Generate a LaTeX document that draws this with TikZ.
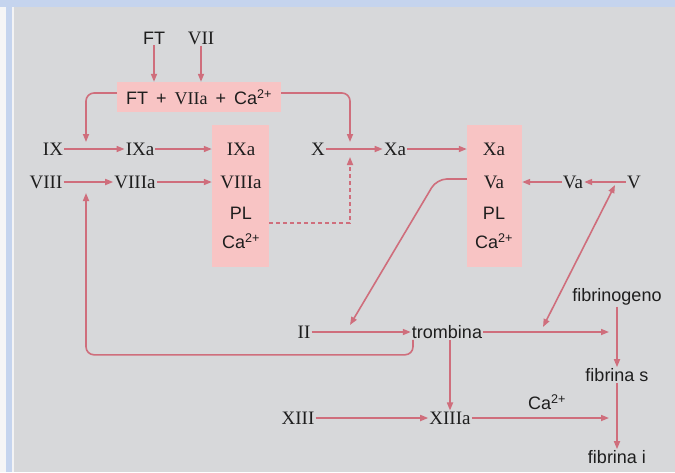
\documentclass[tikz,border=0pt]{standalone}
\usepackage{fontspec}
\setmainfont{Liberation Serif}
\newfontfamily\hsans{Liberation Sans}
\usetikzlibrary{arrows.meta}
\definecolor{bg}{HTML}{D7D8DA}
\definecolor{bandblue}{HTML}{C5D4EE}
\definecolor{arr}{HTML}{CF6E7C}
\definecolor{boxfill}{HTML}{F8C4C4}
\definecolor{txt}{HTML}{1E1E1E}
\begin{document}
\begin{tikzpicture}[x=1pt,y=-1pt,
  >={Triangle[length=8pt,width=6pt]},
  rom/.style={font=\fontsize{19}{21}\selectfont,text=txt,inner sep=1pt},
  san/.style={font=\hsans\fontsize{18}{21}\selectfont,text=txt,inner sep=1pt},
  pbox/.style={fill=boxfill,draw=none,inner sep=0pt},
  arrow/.style={draw=arr,line width=1.6pt,->},
  dblarrow/.style={draw=arr,line width=1.6pt,<->}]
% background
\fill[bg] (0,0) rectangle (675,472);
\fill[white!75!bg] (0,0) rectangle (6,472);
\fill[bandblue] (0,0) rectangle (675,7);
\fill[bandblue] (6,0) rectangle (12,472);
\fill[white!70!bg] (12,7) rectangle (14,472);
\useasboundingbox (0,0) rectangle (675,472);

% boxes
\node[pbox,minimum width=164pt,minimum height=30pt,san] (ftbox) at (199,97)
  {FT\hspace{3pt} + \hspace{3pt}\textrm{VIIa}\hspace{3pt} + \hspace{3pt}Ca\textsuperscript{2+}};
\node[pbox,minimum width=57pt,minimum height=142pt] (box1) at (240.5,196) {};
\node[pbox,minimum width=55pt,minimum height=142pt] (box2) at (494.5,196) {};

% box contents
\node[rom] (b1ixa) at (241,149) {IXa};
\node[rom] (b1viiia) at (241,182) {VIIIa};
\node[san] (b1pl) at (241,213) {PL};
\node[san] (b1ca) at (241,241) {Ca\textsuperscript{2+}};
\node[rom] (b2xa) at (494,149) {Xa};
\node[rom] (b2va) at (494,182) {Va};
\node[san] (b2pl) at (494,213) {PL};
\node[san] (b2ca) at (494,241) {Ca\textsuperscript{2+}};

% free labels
\node[san] (ft) at (154,38) {FT};
\node[rom] (vii) at (201,38) {VII};
\node[rom] (ix) at (53,149) {IX};
\node[rom] (ixa) at (140,149) {IXa};
\node[rom] (viii) at (46,182) {VIII};
\node[rom] (viiia) at (135,182) {VIIIa};
\node[rom] (x) at (318,149) {X};
\node[rom] (xa) at (395,149) {Xa};
\node[rom] (va) at (573,182) {Va};
\node[rom] (v) at (634,182) {V};
\node[rom] (ii) at (304,332) {II};
\node[san] (trombina) at (447,332) {trombina};
\node[san] (fibrinogeno) at (617,297) {fibrinogeno};
\node[san] (fibrinas) at (617,375) {fibrina s};
\node[san] (fibrinai) at (617,457) {fibrina i};
\node[rom] (xiii) at (298,418) {XIII};
\node[rom] (xiiia) at (450,418) {XIIIa};
\node[san] (ca) at (547,402) {Ca\textsuperscript{2+}};

% free ends
\coordinate (lbr) at (86,142);
\coordinate (rbr) at (350,142);
\coordinate (dsh) at (350,157);
\coordinate (iiarr) at (350,325);
\coordinate (thrv) at (543,327);
\coordinate (vtip) at (615,185);
\coordinate (tcol) at (609,332);
\coordinate (xcol) at (609,418);
\coordinate (fbtip) at (86,193);

% connectors
\draw[arrow] (ft) -- (ft |- ftbox.north);
\draw[arrow] (vii) -- (vii |- ftbox.north);
\draw[arrow,rounded corners=8pt] ([yshift=4pt]ftbox.west) -| (lbr);
\draw[arrow,rounded corners=8pt] ([yshift=4pt]ftbox.east) -| (rbr);
\draw[arrow] (ix) -- (ixa);
\draw[arrow] (ixa) -- (box1.west |- ixa);
\draw[arrow] (viii) -- (viiia);
\draw[arrow] (viiia) -- (box1.west |- viiia);
\draw[arrow,dash pattern=on 4pt off 3pt] ([yshift=-27pt]box1.east) -| (dsh);
\draw[arrow] (x) -- (xa);
\draw[arrow] (xa) -- (box2.west |- xa);
\draw[arrow] (va) -- (box2.east |- va);
\draw[arrow] (v) -- (va);
\draw[arrow,rounded corners=10pt] ([yshift=3pt]box2.west |- b2va) -- ++(-30,0) -- (iiarr);
\draw[dblarrow] (thrv) -- (vtip);
\draw[arrow] (ii) -- (trombina);
\draw[arrow] (trombina) -- (tcol);
\draw[arrow] (fibrinogeno) -- (fibrinas);
\draw[arrow] (fibrinas) -- (fibrinai);
\draw[arrow] (trombina.south -| xiiia) -- (xiiia);
\draw[arrow] (xiii) -- (xiiia);
\draw[arrow] (xiiia) -- (xcol);
\draw[arrow,rounded corners=8pt] ([xshift=-34pt]trombina.south) -- ++(0,15) -| (fbtip);
\end{tikzpicture}
\end{document}
